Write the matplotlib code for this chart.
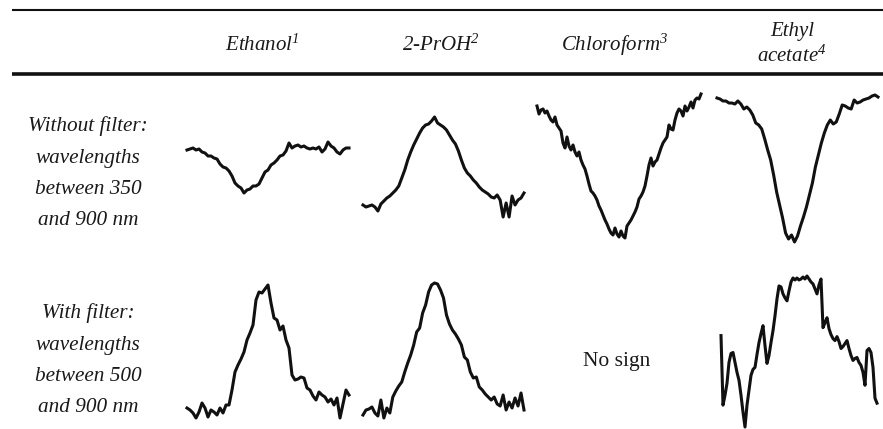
"""Solvent emission traces with and without the long-pass filter, laid out as a table."""

import matplotlib

matplotlib.use("Agg")
import matplotlib.pyplot as plt
import numpy as np

# Column headers (superscripts refer to footnotes of the table).
SOLVENTS = ["Ethanol$^{1}$", "2-PrOH$^{2}$", "Chloroform$^{3}$", "Ethyl\nacetate$^{4}$"]

ROW_LABELS = [
    ["Without filter:", "wavelengths", "between 350", "and 900 nm"],
    ["With filter:", "wavelengths", "between 500", "and 900 nm"],
]

NO_SIGNAL_TEXT = "No sign"

# Relative intensity traces, evenly sampled over the recorded range (arbitrary units).
ETHANOL_NOFILTER = [
    44, 45, 46, 44, 45, 42, 41, 38, 38, 36, 35, 30, 27, 26, 23, 18, 11, 8, 6, 1,
    4, 5, 8, 8, 10, 16, 22, 24, 29, 31, 34, 38, 39, 43, 51, 46, 48, 49, 47, 48,
    46, 45, 46, 45, 47, 42, 45, 52, 48, 46, 42, 40, 44, 46, 46,
]
PROPANOL_NOFILTER = [
    12, 10, 11, 12, 10, 6, 13, 16, 19, 21, 24, 27, 31, 39, 47, 57, 65, 72, 78, 84,
    89, 92, 93, 96, 100, 94, 92, 90, 87, 82, 77, 73, 66, 57, 49, 44, 41, 37, 34, 30,
    27, 25, 23, 20, 19, 22, 17, 0, 14, 0, 21, 12, 17, 19, 24,
]
CHLOROFORM_NOFILTER = [
    132, 124, 128, 129, 125, 127, 122, 118, 116, 121, 113, 110, 107, 95, 90, 101,
    92, 88, 93, 86, 82, 86, 78, 73, 69, 62, 54, 47, 45, 42, 38, 32, 28, 23, 18, 14,
    9, 5, 3, 10, 4, 1, 7, 2, 0, 12, 15, 18, 22, 26, 31, 39, 42, 46, 52, 62, 73, 80,
    72, 76, 78, 84, 90, 95, 98, 101, 113, 109, 108, 118, 125, 129, 127, 122, 132,
    127, 131, 136, 130, 138, 140, 139, 144,
]
ETHYL_ACETATE_NOFILTER = [
    144, 143, 141, 141, 139, 139, 138, 141, 138, 133, 135, 132, 127, 119, 117, 113,
    103, 92, 82, 67, 50, 37, 24, 9, 3, 7, 0, 6, 16, 25, 35, 47, 59, 75, 87, 99, 109,
    117, 122, 118, 120, 128, 137, 136, 134, 133, 142, 139, 140, 142, 143, 144, 146,
    147, 145,
]
ETHANOL_FILTER = [
    10, 8, 5, 0, 6, 15, 10, 1, 8, 6, 3, 10, 5, 13, 13, 28, 46, 53, 59, 66, 78, 85,
    93, 118, 126, 125, 129, 133, 115, 100, 98, 88, 92, 78, 70, 43, 38, 39, 41, 40,
    30, 28, 22, 18, 26, 23, 21, 16, 19, 13, 20, 0, 14, 28, 23,
]
PROPANOL_FILTER = [
    3, 8, 9, 11, 5, 2, 18, 0, 10, 5, 21, 27, 32, 36, 46, 55, 63, 73, 86, 90, 105,
    113, 126, 133, 135, 134, 128, 120, 103, 94, 88, 84, 79, 73, 61, 58, 46, 40, 41,
    31, 28, 24, 21, 18, 21, 14, 12, 23, 8, 16, 10, 20, 12, 25, 8,
]
ETHYL_ACETATE_FILTER = [
    92, 22, 32, 44, 65, 74, 75, 65, 55, 47, 32, 15, 0, 22, 37, 52, 58, 60, 73, 85,
    94, 102, 82, 64, 72, 85, 97, 112, 129, 142, 141, 134, 130, 127, 137, 146, 150,
    148, 150, 148, 149, 151, 149, 152, 149, 146, 144, 139, 134, 143, 149, 100, 105,
    110, 99, 93, 89, 87, 91, 86, 79, 81, 84, 87, 79, 72, 67, 69, 70, 65, 62, 55, 42,
    77, 79, 75, 60, 29, 24,
]

TRACES = [
    [ETHANOL_NOFILTER, PROPANOL_NOFILTER, CHLOROFORM_NOFILTER, ETHYL_ACETATE_NOFILTER],
    [ETHANOL_FILTER, PROPANOL_FILTER, None, ETHYL_ACETATE_FILTER],
]

# Canvas in pixels; each trace box is (left, top, right, bottom).
W, H = 883, 429
TRACE_BOXES = [
    [(187, 142, 349, 193), (363, 117, 524, 217), (537, 94, 701, 238), (717, 95, 878, 242)],
    [(187, 285, 349, 418), (363, 283, 524, 418), (617, 366, 617, 366), (721, 276, 877, 427)],
]
COL_CENTERS = [262, 441, 615, 792]
LABEL_X = 88
LABEL_BASELINES = [[131, 163, 194, 225], [318, 350, 381, 412]]

TEXT_COLOR = "#1a1a1a"
LINE_COLOR = "#111111"
SERIF = "Liberation Serif"

plt.rcParams["mathtext.fontset"] = "custom"
plt.rcParams["mathtext.rm"] = "Liberation Serif:italic"
plt.rcParams["mathtext.it"] = "Liberation Serif:italic"

fig = plt.figure(figsize=(W / 100, H / 100), dpi=100)
fig.patch.set_facecolor("white")

# Background axes in pixel units for rules and text.
bg = fig.add_axes([0, 0, 1, 1])
bg.set_xlim(0, W)
bg.set_ylim(H, 0)
bg.axis("off")

bg.hlines(10, 12, W, color=LINE_COLOR, lw=1.5)
bg.hlines(74, 12, W, color=LINE_COLOR, lw=2.6)

for name, cx in zip(SOLVENTS, COL_CENTERS):
    lines = name.split("\n")
    baselines = [51] if len(lines) == 1 else [36, 62]
    for text, yb in zip(lines, baselines):
        bg.text(cx, yb, text, ha="center", va="baseline", fontsize=15,
                family=SERIF, style="italic", color=TEXT_COLOR)

for labels, baselines in zip(ROW_LABELS, LABEL_BASELINES):
    for text, yb in zip(labels, baselines):
        bg.text(LABEL_X, yb, text, ha="center", va="baseline", fontsize=15.3,
                family=SERIF, style="italic", color=TEXT_COLOR)

for row_traces, row_boxes in zip(TRACES, TRACE_BOXES):
    for values, (x0, y0, x1, y1) in zip(row_traces, row_boxes):
        if values is None:
            bg.text(x0, y0, NO_SIGNAL_TEXT, ha="center", va="baseline",
                    fontsize=15.5, family=SERIF, color=TEXT_COLOR)
            continue
        ax = fig.add_axes([x0 / W, 1 - y1 / H, (x1 - x0) / W, (y1 - y0) / H])
        values = np.asarray(values, dtype=float)
        ax.plot(np.arange(len(values)), values, color=LINE_COLOR, lw=2.2,
                solid_joinstyle="round", clip_on=False)
        ax.set_xlim(0, len(values) - 1)
        ax.set_ylim(values.min(), values.max())
        ax.axis("off")

fig.savefig("out.png", dpi=100, facecolor="white")
